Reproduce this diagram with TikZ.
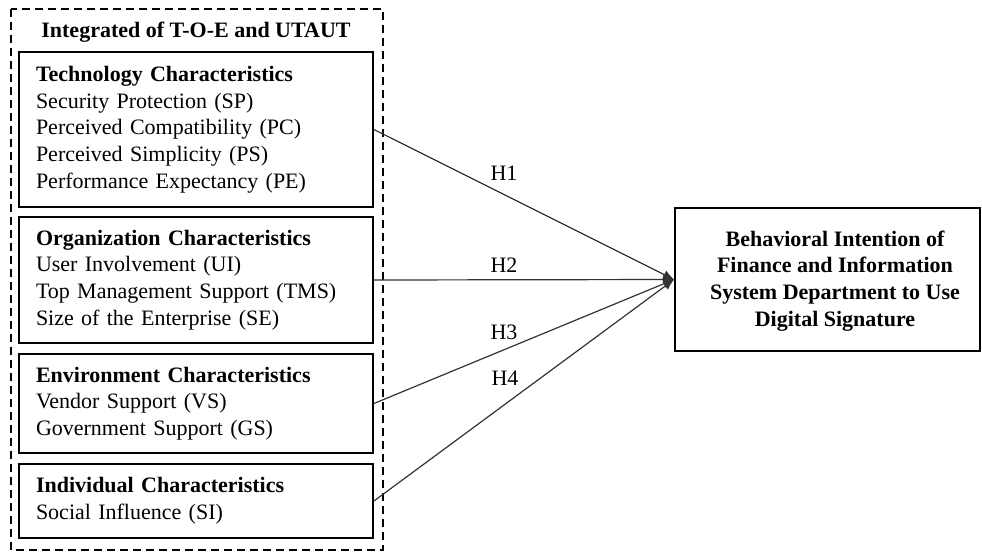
\documentclass[tikz,border=0pt]{standalone}
\usepackage{fontspec}
\setmainfont{Liberation Serif}
\usetikzlibrary{arrows.meta}
\begin{document}
\begin{tikzpicture}[x=1pt,y=-1pt,
  catbox/.style={draw=black,line width=1.8pt,rectangle,minimum width=354pt,
    inner xsep=17pt,inner ysep=0pt,text width=320pt,align=left,
    font=\fontsize{22}{26.7}\selectfont},
  conn/.style={draw=black!80,line width=1.2pt,-{Latex[length=11pt,width=9pt]}},
  hlab/.style={font=\fontsize{22}{26.7}\selectfont,inner sep=0pt},
  every node/.style={text=black}]
\useasboundingbox (0,0) rectangle (982,552);
\draw[line width=1.8pt,dash pattern=on 8pt off 5pt] (11,9) rectangle (383,550);
\node[hlab,font=\fontsize{22}{26.7}\selectfont\bfseries,anchor=base] (title) at (196,37) {Integrated of T-O-E and UTAUT};
\node[catbox,minimum height=155pt] (tech) at (196,129.5) {\textbf{Technology Characteristics}\\Security Protection (SP)\\Perceived Compatibility (PC)\\Perceived Simplicity (PS)\\Performance Expectancy (PE)};
\node[catbox,minimum height=126pt] (org) at (196,280) {\textbf{Organization Characteristics}\\User Involvement (UI)\\Top Management Support (TMS)\\Size of the Enterprise (SE)};
\node[catbox,minimum height=99pt] (env) at (196,403.5) {\textbf{Environment Characteristics}\\Vendor Support (VS)\\Government Support (GS)};
\node[catbox,minimum height=74pt] (ind) at (196,501) {\textbf{Individual Characteristics}\\Social Influence (SI)};
\node[draw=black,line width=1.8pt,rectangle,minimum width=305pt,minimum height=143pt,inner sep=0pt] (target) at (827.5,279.5) {};
\node[align=center,inner sep=0pt,font=\fontsize{22}{26.7}\selectfont\bfseries] (targettext) at (835,281) {Behavioral Intention of\\Finance and Information\\System Department to Use\\Digital Signature};
\draw[conn] (tech.east) -- (target.west);
\draw[conn] (org.east) -- (target.west);
\draw[conn] (env.east) -- (target.west);
\draw[conn] (ind.east) -- (target.west);
\node[hlab] (h1) at (504,173) {H1};
\node[hlab] (h2) at (504,265) {H2};
\node[hlab] (h3) at (504,332) {H3};
\node[hlab] (h4) at (505,378) {H4};
\end{tikzpicture}
\end{document}
